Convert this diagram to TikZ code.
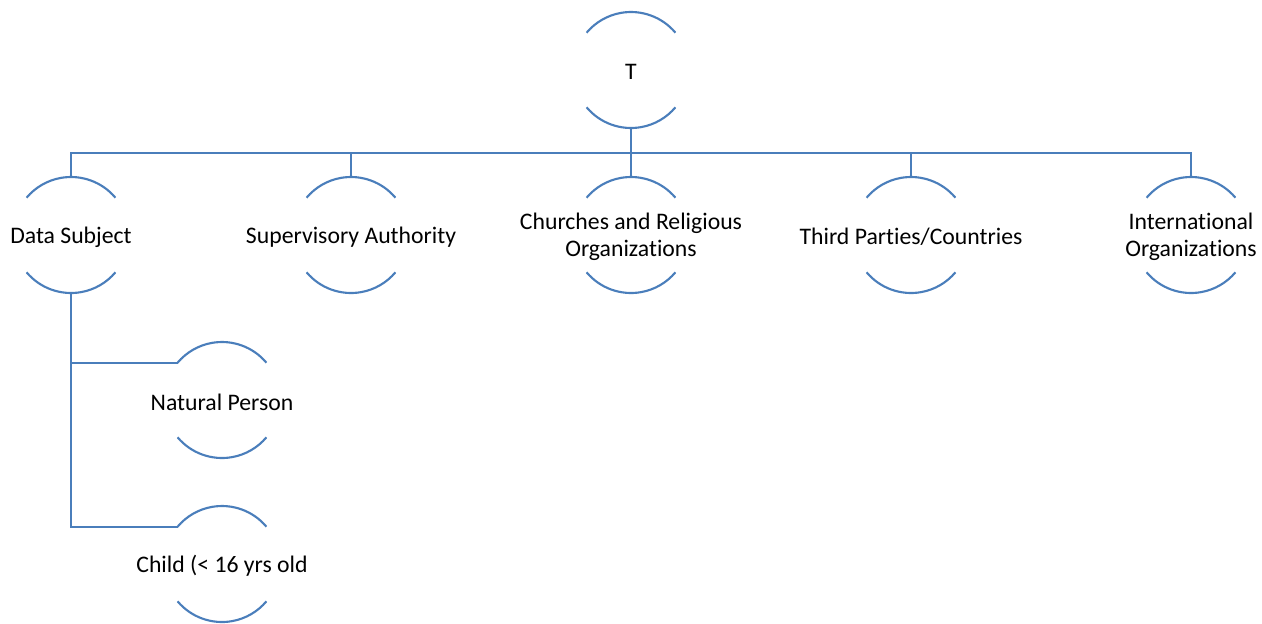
\documentclass[tikz,border=0pt]{standalone}
\usepackage{fontspec}
\setmainfont{Carlito}[Ligatures=NoCommon]
\usepackage{tikz}
\definecolor{ringblue}{HTML}{4A7EBB}

\tikzset{
  ring/.style={circle, draw=none, inner sep=0pt, outer sep=0pt, minimum size=2.32cm},
  txt/.style={align=center, font=\fontsize{13.5}{15.5}\selectfont, text=black, yshift=-0.04cm},
  link/.style={draw=ringblue, line width=1.2pt}
}

\begin{document}
\begin{tikzpicture}
    \useasboundingbox (0,0) rectangle (25.24,-12.46);
    \def\rr{1.16}

    \node [ring, label={[txt]center:T}] (T) at (12.62,-1.40) {};
    \node [ring, label={[txt]center:Data Subject}] (subject) at (1.42,-4.70) {};
    \node [ring, label={[txt]center:Supervisory Authority}] (authority) at (7.02,-4.70) {};
    \node [ring, label={[txt]center:Churches and Religious\\Organizations}] (churches) at (12.62,-4.70) {};
    \node [ring, label={[txt]center:Third Parties/Countries}] (thirdparty) at (18.22,-4.70) {};
    \node [ring, label={[txt]center:International\\Organizations}] (intorg) at (23.82,-4.70) {};
    \node [ring, label={[txt]center:Natural Person}] (natural) at (4.44,-8.00) {};
    \node [ring, label={[txt]center:Child (< 16 yrs old}] (child) at (4.44,-11.28) {};

    % the two arcs of every ring
    \foreach \n in {T,subject,authority,churches,thirdparty,intorg,natural,child}{
        \draw [link] ([shift={(40:\rr)}]\n.center) arc (40:140:\rr);
        \draw [link] ([shift={(220:\rr)}]\n.center) arc (220:320:\rr);
    }

    \draw [link] (T.south) -- ++(0,-0.5) coordinate (bus);
    \foreach \c in {subject,authority,churches,thirdparty,intorg}
        \draw [link] (bus) -| (\c.north);

    \draw [link] (subject.south) |- (natural.140);
    \draw [link] (subject.south) |- (child.140);
\end{tikzpicture}
\end{document}
